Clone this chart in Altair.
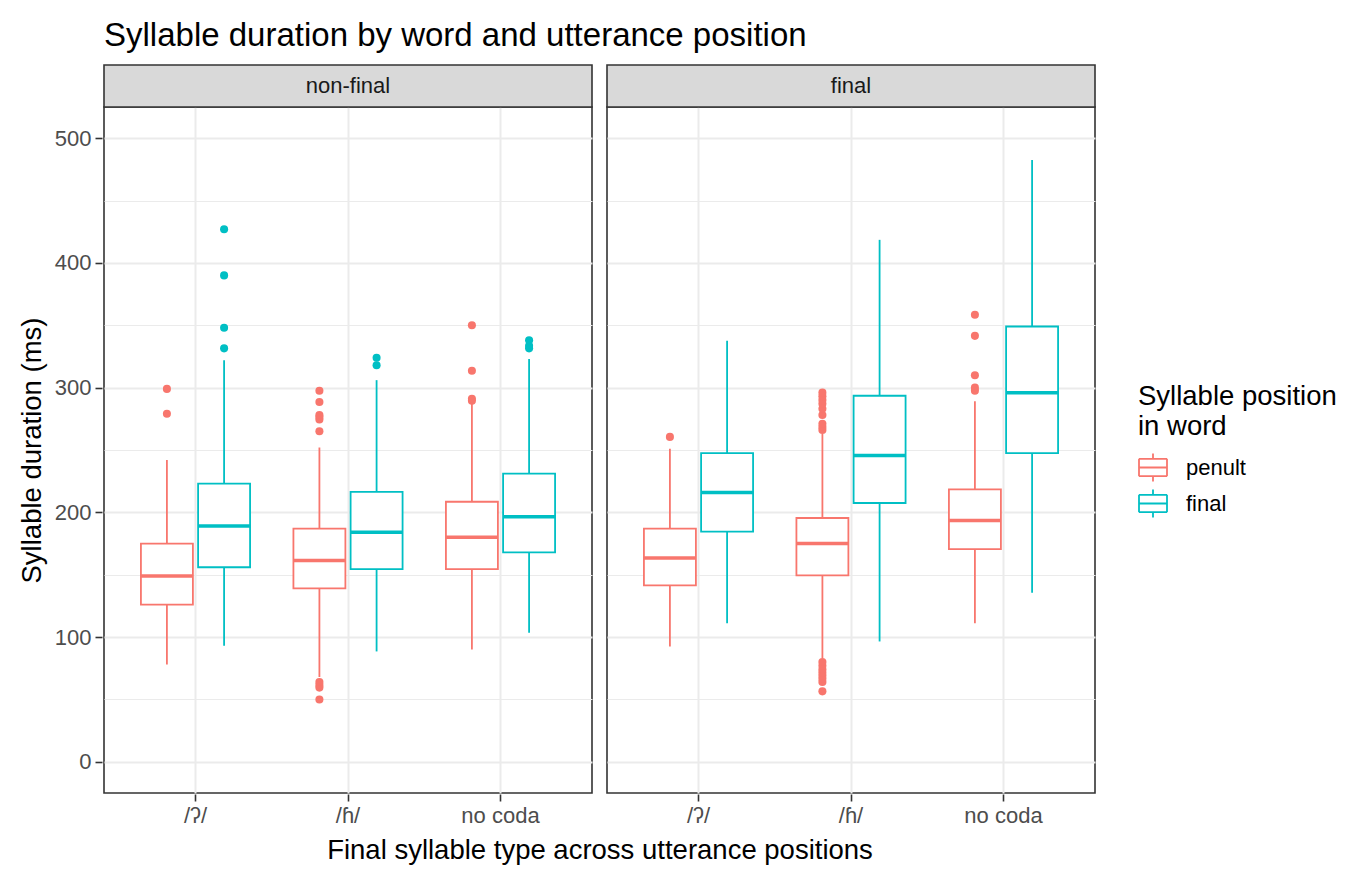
import altair as alt
import pandas as pd

FONT = "Liberation Sans"

panels = ["non-final", "final"]
categories = ["/ʔ/", "/ɦ/", "no coda"]
positions = ["penult", "final"]
colors = ["#F8766D", "#00BFC4"]

# box statistics, order: panel x category x position
box_panel = ["non-final"] * 6 + ["final"] * 6
box_cat = ["/ʔ/", "/ʔ/", "/ɦ/", "/ɦ/", "no coda", "no coda"] * 2
box_pos = ["penult", "final"] * 6
box_lower = [78, 93, 68, 88.5, 90, 103.5, 92.5, 111, 83, 96.5, 111, 135.5]
box_q1 = [126, 156, 139, 154.5, 154.5, 168, 141.5, 184.5, 149.5, 207.5, 170.5, 247.5]
box_median = [149, 189, 161.5, 184, 180, 196.5, 163.5, 216, 175, 245.5, 193.5, 296]
box_q3 = [175, 223, 187, 216.5, 208.5, 231, 187, 247.5, 195.5, 293.5, 218.5, 349]
box_upper = [242, 322, 252, 306, 287, 323, 251, 337.5, 263, 418.5, 289, 482.5]

# outliers
out_nf_glottal_penult = [279, 299]
out_nf_glottal_final = [331.5, 348, 390, 427]
out_nf_h_penult = [50, 59.5, 61.5, 64, 265, 274.5, 276.5, 278, 288.5, 297.5]
out_nf_h_final = [318, 324]
out_nf_nocoda_penult = [289.5, 291, 313.5, 350]
out_nf_nocoda_final = [331.5, 333.5, 338]
out_f_glottal_penult = [260.5]
out_f_glottal_final = []
out_f_h_penult = [56.5, 64, 66.5, 69, 71.5, 74, 77, 80,
                  266, 268.5, 271, 278, 283, 287, 290, 293, 296]
out_f_h_final = []
out_f_nocoda_penult = [297.5, 300, 310, 341.5, 358.5]
out_f_nocoda_final = []

outlier_lists = [out_nf_glottal_penult, out_nf_glottal_final, out_nf_h_penult,
                 out_nf_h_final, out_nf_nocoda_penult, out_nf_nocoda_final,
                 out_f_glottal_penult, out_f_glottal_final, out_f_h_penult,
                 out_f_h_final, out_f_nocoda_penult, out_f_nocoda_final]

rows = []
for i in range(12):
    rows.append(dict(kind="box", panel=box_panel[i], cat=box_cat[i], pos=box_pos[i],
                     lower=box_lower[i], q1=box_q1[i], median=box_median[i],
                     q3=box_q3[i], upper=box_upper[i], value=None))
    for v in outlier_lists[i]:
        rows.append(dict(kind="out", panel=box_panel[i], cat=box_cat[i], pos=box_pos[i],
                         lower=None, q1=None, median=None, q3=None, upper=None, value=v))
df = pd.DataFrame(rows)

W, H = 488, 686
BOXW = 52
SW = 1.8

major = "datum.value % 100 === 0"

x_enc = alt.X("cat:N", sort=categories,
              scale=alt.Scale(domain=categories, paddingInner=0, paddingOuter=0.1),
              axis=alt.Axis(title=None, labelFontSize=22, labelColor="#4D4D4D", labelFont=FONT,
                            tickSize=7, tickColor="#333333", tickWidth=1.6, domain=False,
                            grid=True, gridColor="#EBEBEB", gridWidth=2, bandPosition=0.5,
                            labelAngle=0, labelPadding=4))
xo_enc = alt.XOffset("pos:N", sort=positions,
                     scale=alt.Scale(domain=positions, paddingInner=0.091, paddingOuter=0.379))
y_scale = alt.Scale(domain=[-25, 525], nice=False, zero=False)
y_axis = alt.Axis(values=list(range(0, 501, 50)),
                  labelExpr="datum.value % 100 === 0 ? datum.label : ''",
                  gridColor="#EBEBEB",
                  gridWidth={"condition": {"test": major, "value": 2}, "value": 1},
                  tickColor={"condition": {"test": major, "value": "#333333"}, "value": "transparent"},
                  tickSize=7, tickWidth=1.6, labelFontSize=22, labelColor="#4D4D4D",
                  labelFont=FONT, labelPadding=4, domain=False,
                  title="Syllable duration (ms)", titleFontSize=27.5, titleFont=FONT,
                  titleFontWeight="normal", titleColor="black", titlePadding=8)
color_scale = alt.Scale(domain=positions, range=colors)
# legend glyph drawn only with open line segments (box outline, median, whiskers)
glyph = ("M-1,-0.62H1 M1,-0.62V0.62 M1,0.62H-1 M-1,0.62V-0.62 "
         "M-1,0H1 M0,-1V-0.62 M0,0.62V1")
legend = alt.Legend(title=["Syllable position", "\u00a0in word"], orient="none",
                    legendX=1034, legendY=276, titleLimit=0, labelLimit=0,
                    titleFontSize=27.5, titleFont=FONT, titleFontWeight="normal",
                    titleColor="black", titleLineHeight=30, titlePadding=12,
                    labelFontSize=22, labelFont=FONT, labelColor="black",
                    symbolType=glyph, symbolSize=784, symbolStrokeWidth=SW, symbolOpacity=1,
                    symbolFillColor="white", labelOffset=18, rowPadding=0)
col_leg = alt.Color("pos:N", scale=color_scale, legend=legend)
col_enc = alt.Color("pos:N", scale=color_scale, legend=None)
fill_enc = alt.Fill("pos:N", scale=color_scale, legend=None)

base = alt.Chart()
boxes = base.transform_filter("datum.kind === 'box'")
outs = base.transform_filter("datum.kind === 'out'")

whisk_lo = boxes.mark_rule(strokeWidth=SW).encode(
    x=x_enc, xOffset=xo_enc, y=alt.Y("lower:Q", scale=y_scale, axis=y_axis), y2="q1:Q", color=col_leg)
whisk_hi = boxes.mark_rule(strokeWidth=SW).encode(
    x=x_enc, xOffset=xo_enc, y=alt.Y("q3:Q", scale=y_scale), y2="upper:Q", color=col_enc)
box = boxes.mark_bar(fill="white", strokeWidth=SW).encode(
    x=x_enc, xOffset=xo_enc, y=alt.Y("q1:Q", scale=y_scale), y2="q3:Q",
    stroke=alt.Stroke("pos:N", scale=color_scale, legend=None))
med = boxes.mark_tick(thickness=3.5, size=BOXW, opacity=1).encode(
    x=x_enc, xOffset=xo_enc, y=alt.Y("median:Q", scale=y_scale), fill=fill_enc)
pts = outs.mark_circle(size=65, opacity=1).encode(
    x=x_enc, xOffset=xo_enc, y=alt.Y("value:Q", scale=y_scale), fill=fill_enc)

strip_base = base.transform_filter("datum.kind === 'box'").transform_aggregate(
    n="count()", groupby=["panel"])
strip = strip_base.mark_rect(fill="#D9D9D9", stroke="#333333", strokeWidth=1.6).encode(
    x=alt.value(0), x2=alt.value(W), y=alt.value(-42), y2=alt.value(0))
strip_txt = strip_base.mark_text(fontSize=22, font=FONT, color="#1A1A1A", baseline="middle").encode(
    x=alt.value(W / 2), y=alt.value(-21), text="panel:N")

layered = alt.layer(whisk_lo, whisk_hi, box, med, pts, strip, strip_txt).properties(width=W, height=H)

chart = layered.facet(
    column=alt.Column("panel:N", sort=panels,
                      header=alt.Header(labels=False,
                                        title="Final syllable type across utterance positions",
                                        titleOrient="bottom", titleFontSize=27.5, titleFont=FONT,
                                        titleFontWeight="normal", titleColor="black", titlePadding=1)),
    data=df, spacing=11,
).properties(
    title=alt.TitleParams("Syllable duration by word and utterance position", anchor="start",
                          frame="group", fontSize=33, font=FONT, fontWeight="normal",
                          color="black", offset=10),
    background="white",
    padding={"left": 10, "top": 12, "right": 5, "bottom": 5},
).configure_view(stroke="#333333", strokeWidth=1.6)

chart.save("out.html", embed_options={"renderer": "svg", "actions": False})
